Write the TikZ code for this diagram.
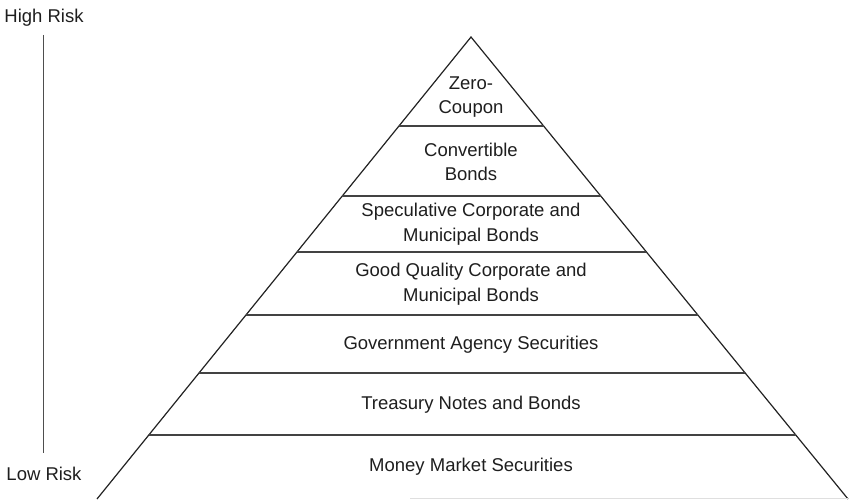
\documentclass[tikz,border=0pt]{standalone}
\usepackage{fontspec}
\setmainfont{Liberation Sans}
\usetikzlibrary{calc}
\definecolor{txt}{HTML}{1E1E1E}
\definecolor{ln}{HTML}{222222}
\begin{document}
\begin{tikzpicture}[x=1pt,y=1pt,
  lbl/.style={font=\fontsize{18.5}{24.5}\selectfont, text=txt, align=center, inner sep=0pt},
  edge/.style={draw=ln, line width=1.2pt},
  layer/.style={draw=ln!85, line width=1.3pt}]
\useasboundingbox (0,0) rectangle (850,499);
% pyramid corners
\coordinate (apex) at (471,462);
\coordinate (L) at (97,0);
\coordinate (R) at (848,0);
\draw[edge] (L) -- (apex) -- (R);
\draw[gray!25, line width=1pt] (410,0.5) -- (848,0.5);
% layer lines
\foreach \t/\n in {0.1926/a,0.3442/b,0.4654/c,0.6017/d,0.7273/e,0.8615/f}{
  \coordinate (l\n) at ($(apex)!\t!(L)$);
  \coordinate (r\n) at ($(apex)!\t!(R)$);
  \draw[layer] (l\n) -- (r\n);
}
% labels
\node[lbl] (zc) at (471,402) {Zero-\\Coupon};
\node[lbl] (cb) at (471,337) {Convertible\\Bonds};
\node[lbl] (sc) at (471,275) {Speculative Corporate and\\Municipal Bonds};
\node[lbl] (gq) at (471,215) {Good Quality Corporate and\\Municipal Bonds};
\node[lbl] (ga) at (471,154) {Government Agency Securities};
\node[lbl] (tn) at (471,94) {Treasury Notes and Bonds};
\node[lbl] (mm) at (471,32) {Money Market Securities};
% risk axis
\node[lbl, anchor=base] (hr) at (44,476) {High Risk};
\node[lbl, anchor=base] (lr) at (44,19) {Low Risk};
\coordinate (ax1) at (43.5,464);
\coordinate (ax2) at (43.5,46);
\draw[draw=ln!80, line width=1.3pt] (ax1) -- (ax2);
\end{tikzpicture}
\end{document}
